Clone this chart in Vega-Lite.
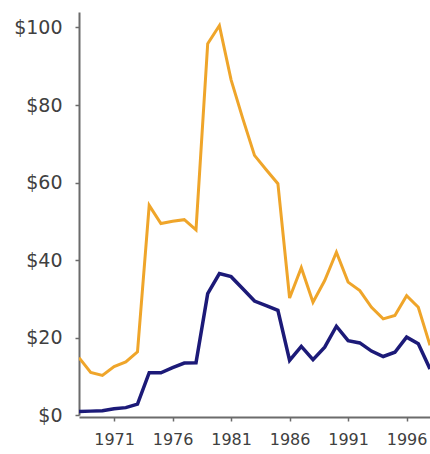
{
  "$schema": "https://vega.github.io/schema/vega-lite/v6.json",
  "autosize": "none",
  "width": 351,
  "height": 403,
  "padding": {"left": 79, "top": 12, "right": 0, "bottom": 39},
  "background": "white",
  "data": {
    "values": [
      {"year": 1968, "nominal": 0.9, "real": 14.8},
      {"year": 1969, "nominal": 1.0, "real": 11.0},
      {"year": 1970, "nominal": 1.1, "real": 10.2},
      {"year": 1971, "nominal": 1.6, "real": 12.5},
      {"year": 1972, "nominal": 1.9, "real": 13.7},
      {"year": 1973, "nominal": 2.8, "real": 16.3},
      {"year": 1974, "nominal": 10.9, "real": 54.1},
      {"year": 1975, "nominal": 10.9, "real": 49.4},
      {"year": 1976, "nominal": 12.2, "real": 50.0},
      {"year": 1977, "nominal": 13.4, "real": 50.4},
      {"year": 1978, "nominal": 13.5, "real": 47.8},
      {"year": 1979, "nominal": 31.3, "real": 95.8},
      {"year": 1980, "nominal": 36.5, "real": 100.5},
      {"year": 1981, "nominal": 35.7, "real": 86.5},
      {"year": 1982, "nominal": 32.6, "real": 76.5},
      {"year": 1983, "nominal": 29.4, "real": 67.0},
      {"year": 1984, "nominal": 28.2, "real": 63.3},
      {"year": 1985, "nominal": 27.0, "real": 59.7},
      {"year": 1986, "nominal": 14.1, "real": 30.2},
      {"year": 1987, "nominal": 17.7, "real": 38.0},
      {"year": 1988, "nominal": 14.3, "real": 29.1},
      {"year": 1989, "nominal": 17.5, "real": 34.7},
      {"year": 1990, "nominal": 22.9, "real": 42.0},
      {"year": 1991, "nominal": 19.2, "real": 34.3},
      {"year": 1992, "nominal": 18.6, "real": 32.1},
      {"year": 1993, "nominal": 16.5, "real": 27.8},
      {"year": 1994, "nominal": 15.1, "real": 24.8},
      {"year": 1995, "nominal": 16.2, "real": 25.7},
      {"year": 1996, "nominal": 20.1, "real": 30.8},
      {"year": 1997, "nominal": 18.4, "real": 27.8},
      {"year": 1998, "nominal": 11.9, "real": 18.0}
    ]
  },
  "config": {
    "view": {"stroke": null},
    "axis": {
      "grid": false,
      "domainColor": "#6b6b6b",
      "domainWidth": 2,
      "tickColor": "#6b6b6b",
      "tickWidth": 1.5,
      "tickSize": 4,
      "labelColor": "#404040",
      "labelFont": "DejaVu Sans",
      "title": null
    }
  },
  "encoding": {
    "x": {
      "field": "year",
      "type": "quantitative",
      "scale": {"domain": [1968, 1998], "nice": false, "zero": false},
      "axis": {
        "values": [1971, 1976, 1981, 1986, 1991, 1996],
        "format": "d",
        "labelFontSize": 16,
        "labelPadding": 10,
        "offset": 2
      }
    }
  },
  "layer": [
    {
      "mark": {"type": "line", "color": "#EFA52A", "strokeWidth": 3, "clip": true},
      "encoding": {
        "y": {
          "field": "real",
          "type": "quantitative",
          "scale": {"domain": [0, 104], "nice": false},
          "axis": {
            "values": [0, 20, 40, 60, 80, 100],
            "format": "$d",
            "labelFontSize": 19,
            "labelPadding": 13
          }
        }
      }
    },
    {
      "mark": {"type": "line", "color": "#1C1A78", "strokeWidth": 3.5, "clip": true},
      "encoding": {
        "y": {"field": "nominal", "type": "quantitative"}
      }
    }
  ]
}
